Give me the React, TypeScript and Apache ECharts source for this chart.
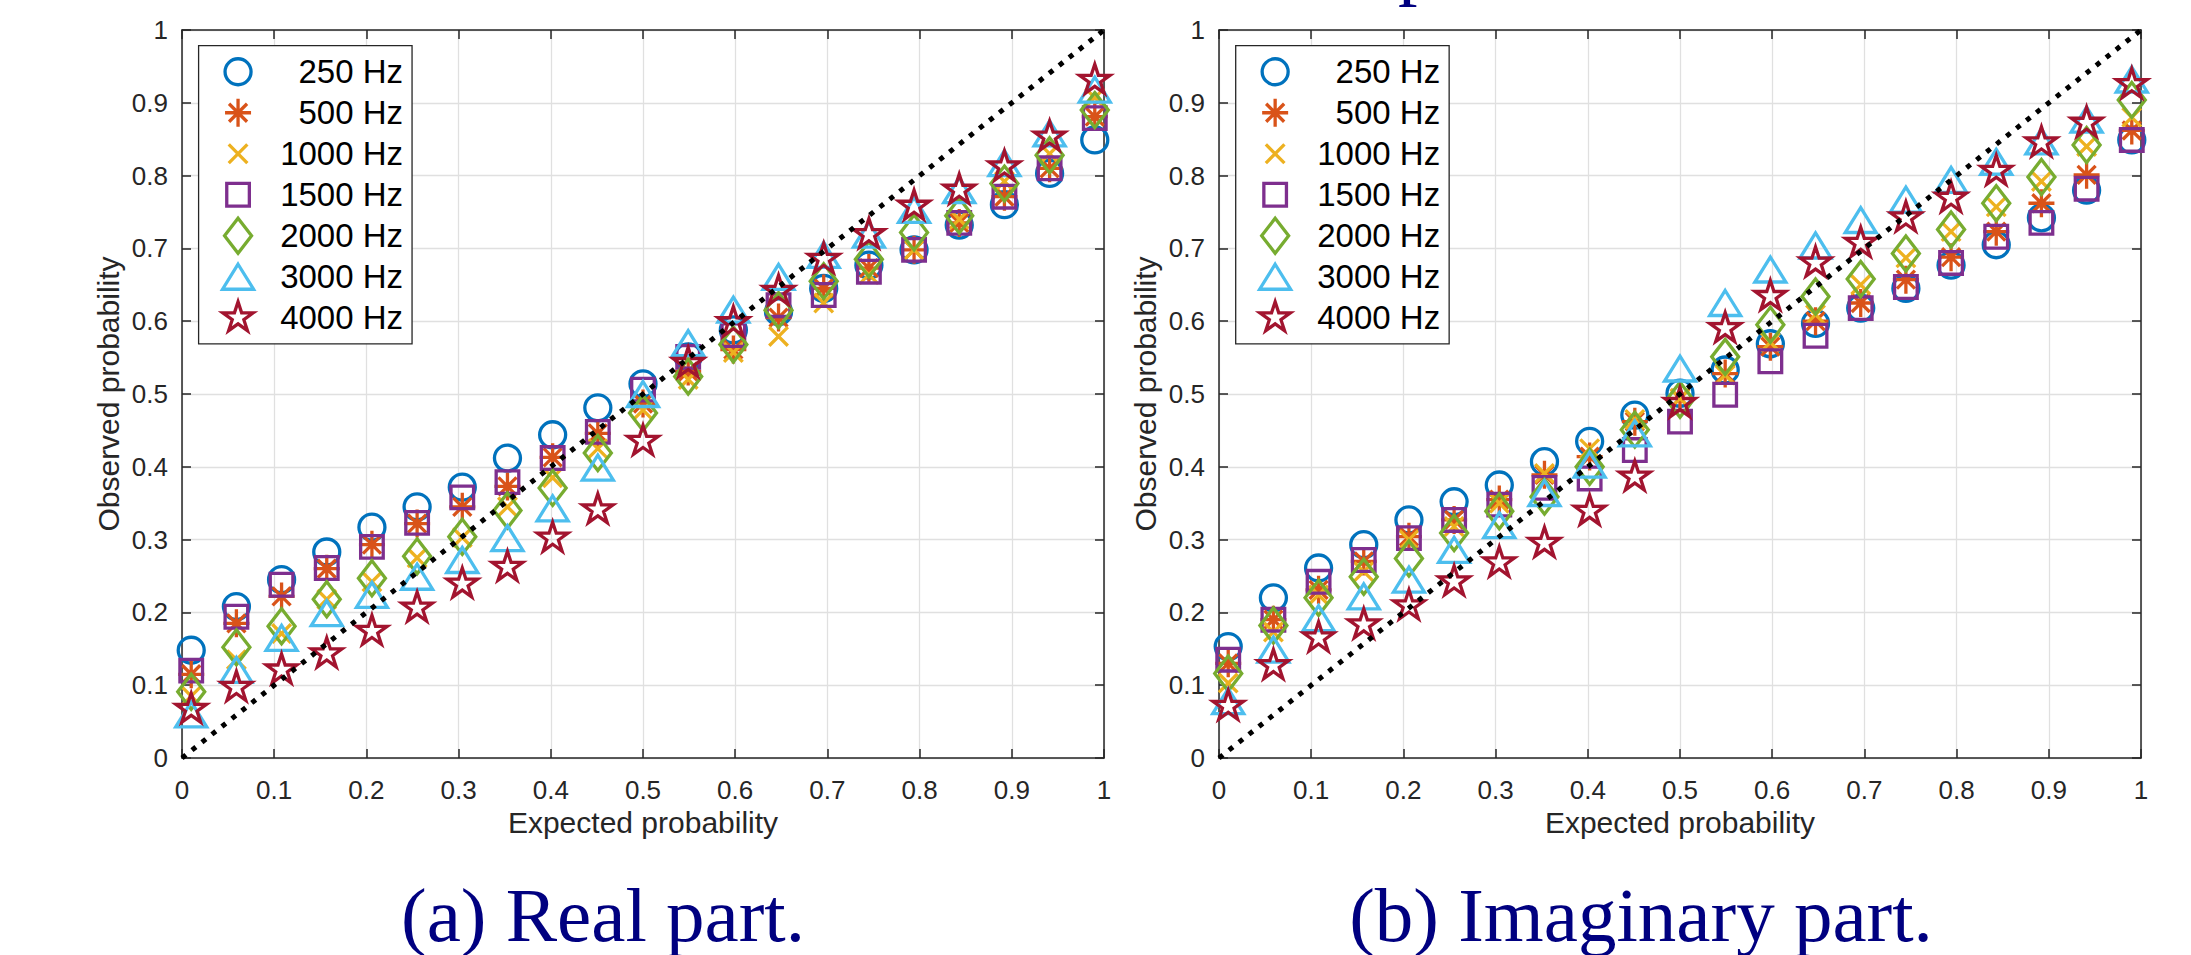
import React, { useEffect, useRef } from 'react';
import * as echarts from 'echarts';

// ---------- data ----------
const EXPECTED = [0.01, 0.059, 0.108, 0.157, 0.206, 0.255, 0.304, 0.353, 0.402, 0.451, 0.5, 0.549, 0.598, 0.647, 0.696, 0.745, 0.794, 0.843, 0.892, 0.941, 0.99];

const NAMES = ['250 Hz', '500 Hz', '1000 Hz', '1500 Hz', '2000 Hz', '3000 Hz', '4000 Hz'];

const REAL_250 = [0.148, 0.208, 0.245, 0.283, 0.317, 0.345, 0.372, 0.412, 0.444, 0.481, 0.514, 0.551, 0.588, 0.613, 0.645, 0.677, 0.698, 0.732, 0.760, 0.803, 0.849];
const REAL_500 = [0.115, 0.185, 0.222, 0.260, 0.293, 0.322, 0.345, 0.373, 0.413, 0.446, 0.487, 0.531, 0.561, 0.605, 0.645, 0.673, 0.698, 0.735, 0.771, 0.810, 0.881];
const REAL_1000 = [0.085, 0.135, 0.171, 0.218, 0.242, 0.275, 0.303, 0.345, 0.385, 0.425, 0.478, 0.520, 0.557, 0.579, 0.625, 0.664, 0.698, 0.740, 0.792, 0.830, 0.907];
const REAL_1500 = [0.120, 0.194, 0.238, 0.261, 0.290, 0.323, 0.358, 0.379, 0.412, 0.448, 0.506, 0.551, 0.581, 0.622, 0.636, 0.668, 0.698, 0.735, 0.771, 0.810, 0.879];
const REAL_2000 = [0.091, 0.152, 0.181, 0.218, 0.247, 0.277, 0.304, 0.340, 0.371, 0.419, 0.474, 0.524, 0.568, 0.615, 0.655, 0.685, 0.722, 0.745, 0.789, 0.828, 0.890];
const REAL_3000 = [0.060, 0.121, 0.165, 0.199, 0.224, 0.249, 0.272, 0.302, 0.343, 0.399, 0.500, 0.570, 0.616, 0.661, 0.691, 0.719, 0.753, 0.780, 0.817, 0.858, 0.918];
const REAL_4000 = [0.067, 0.097, 0.121, 0.143, 0.174, 0.206, 0.239, 0.262, 0.302, 0.341, 0.435, 0.542, 0.598, 0.641, 0.685, 0.719, 0.758, 0.780, 0.812, 0.853, 0.931];

const IMAG_250 = [0.153, 0.220, 0.261, 0.293, 0.327, 0.352, 0.375, 0.407, 0.435, 0.471, 0.501, 0.533, 0.569, 0.597, 0.618, 0.645, 0.677, 0.705, 0.742, 0.780, 0.849];
const IMAG_500 = [0.130, 0.190, 0.231, 0.270, 0.304, 0.327, 0.355, 0.389, 0.414, 0.462, 0.494, 0.528, 0.565, 0.600, 0.625, 0.657, 0.688, 0.723, 0.762, 0.801, 0.862];
const IMAG_1000 = [0.103, 0.173, 0.224, 0.256, 0.300, 0.318, 0.350, 0.391, 0.425, 0.465, 0.494, 0.526, 0.571, 0.609, 0.650, 0.687, 0.723, 0.757, 0.792, 0.840, 0.880];
const IMAG_1500 = [0.135, 0.190, 0.242, 0.272, 0.302, 0.327, 0.348, 0.371, 0.384, 0.423, 0.462, 0.499, 0.545, 0.580, 0.618, 0.647, 0.680, 0.716, 0.735, 0.782, 0.849];
const IMAG_2000 = [0.116, 0.182, 0.220, 0.249, 0.274, 0.309, 0.339, 0.359, 0.400, 0.451, 0.492, 0.551, 0.595, 0.634, 0.658, 0.693, 0.726, 0.762, 0.798, 0.842, 0.904];
const IMAG_3000 = [0.078, 0.149, 0.192, 0.222, 0.245, 0.286, 0.320, 0.364, 0.403, 0.446, 0.535, 0.625, 0.671, 0.704, 0.739, 0.767, 0.794, 0.819, 0.847, 0.877, 0.932];
const IMAG_4000 = [0.071, 0.127, 0.165, 0.183, 0.209, 0.242, 0.268, 0.295, 0.339, 0.386, 0.487, 0.590, 0.634, 0.680, 0.707, 0.742, 0.769, 0.806, 0.845, 0.872, 0.925];

const REAL_SERIES = [REAL_250, REAL_500, REAL_1000, REAL_1500, REAL_2000, REAL_3000, REAL_4000];
const IMAG_SERIES = [IMAG_250, IMAG_500, IMAG_1000, IMAG_1500, IMAG_2000, IMAG_3000, IMAG_4000];

const TICK_LABELS = ['0', '0.1', '0.2', '0.3', '0.4', '0.5', '0.6', '0.7', '0.8', '0.9', '1'];
const DIAGONAL = [0, 1];
const X_NAME = 'Expected probability';
const Y_NAME = 'Observed probability';
const CAPTIONS = ['(a) Real part.', '(b) Imaginary part.'];

// ---------- styles ----------
const COLORS = ['#0072BD', '#D95319', '#EDB120', '#7E2F8E', '#77AC30', '#4DBEEE', '#A2142F'];
const FONT = '"Liberation Sans", Arial, Helvetica, sans-serif';
const SERIF = '"Liberation Serif", "Times New Roman", serif';
const AXIS_COLOR = '#262626';
const GRID_COLOR = '#e0e0e0';
const FRAME = 'M0 0M40 40';
const SYMBOLS = [
  'path://' + FRAME + 'M7 20A13 13 0 1 1 33 20A13 13 0 1 1 7 20Z',
  'path://' + FRAME + 'M20 6V34M7 20H33M11 11L29 29M29 11L11 29',
  'path://' + FRAME + 'M10.7 10.7L29.3 29.3M29.3 10.7L10.7 29.3',
  'path://' + FRAME + 'M8.7 8.7H31.3V31.3H8.7Z',
  'path://' + FRAME + 'M20 2.5L33.5 20L20 37.5L6.5 20Z',
  'path://' + FRAME + 'M20 7.5L35.5 32.5H4.5Z',
  'path://' + FRAME + 'M20 4L23.59 15.07L35.22 15.06L25.8 21.89L29.41 32.94L20 26.1L10.59 32.94L14.2 21.89L4.78 15.06L16.41 15.07Z',
];
const MARKER_STROKE = 3.3;

const GRIDS = [
  { left: 182, top: 30, width: 922, height: 728 },
  { left: 1219, top: 30, width: 922, height: 728 },
];

const tickFmt = (v: number) => TICK_LABELS[Math.round(v * 10)] ?? '';

function axisCommon() {
  return {
    type: 'value' as const,
    min: 0,
    max: 1,
    interval: 0.1,
    axisLine: { show: true, onZero: false, lineStyle: { color: AXIS_COLOR, width: 1.5 } },
    axisTick: { show: true, inside: true, length: 9, lineStyle: { color: AXIS_COLOR, width: 1.5 } },
  };
}

export default function App() {
  const ref = useRef<HTMLDivElement>(null);

  useEffect(() => {
    if (!ref.current) return;
    const chart = echarts.init(ref.current, null, { renderer: 'svg' });

    const xAxis: any[] = [];
    const yAxis: any[] = [];
    GRIDS.forEach((_, g) => {
      xAxis.push({
        ...axisCommon(),
        gridIndex: g,
        position: 'bottom',
        name: X_NAME,
        nameLocation: 'middle',
        nameGap: 49,
        nameTextStyle: { fontFamily: FONT, fontSize: 30, color: AXIS_COLOR },
        axisLabel: { show: true, margin: 19, fontFamily: FONT, fontSize: 26, color: AXIS_COLOR, formatter: tickFmt },
        splitLine: { show: true, lineStyle: { color: GRID_COLOR, width: 1.3 } },
      });
      xAxis.push({
        ...axisCommon(),
        gridIndex: g,
        position: 'top',
        axisLabel: { show: false },
        splitLine: { show: false },
      });
      yAxis.push({
        ...axisCommon(),
        gridIndex: g,
        position: 'left',
        name: Y_NAME,
        nameLocation: 'middle',
        nameGap: 59,
        nameTextStyle: { fontFamily: FONT, fontSize: 30, color: AXIS_COLOR },
        axisLabel: { show: true, margin: 14, fontFamily: FONT, fontSize: 26, color: AXIS_COLOR, formatter: tickFmt },
        splitLine: { show: true, lineStyle: { color: GRID_COLOR, width: 1.3 } },
      });
      yAxis.push({
        ...axisCommon(),
        gridIndex: g,
        position: 'right',
        axisLabel: { show: false },
        splitLine: { show: false },
      });
    });

    const series: any[] = [];
    [REAL_SERIES, IMAG_SERIES].forEach((group, g) => {
      group.forEach((vals, i) => {
        series.push({
          type: 'scatter',
          name: NAMES[i],
          xAxisIndex: g * 2,
          yAxisIndex: g * 2,
          symbol: SYMBOLS[i],
          symbolSize: 40,
          itemStyle: { color: 'rgba(0,0,0,0)', borderColor: COLORS[i], borderWidth: MARKER_STROKE, opacity: 1 },
          emphasis: { disabled: true },
          z: 2 + i * 0.01,
          data: EXPECTED.map((x, k) => [x, vals[k]]),
        });
      });
      series.push({
        type: 'line',
        name: 'diag',
        xAxisIndex: g * 2,
        yAxisIndex: g * 2,
        symbol: 'none',
        lineStyle: { color: '#000', width: 5, type: [5, 7.7], cap: 'butt' },
        emphasis: { disabled: true },
        z: 3,
        data: DIAGONAL.map((v) => [v, v]),
      });
    });

    const legends = [198.6, 1235.7].map((left) => ({
      data: NAMES,
      orient: 'vertical',
      left,
      top: 45.7,
      itemWidth: 40,
      itemHeight: 40,
      itemGap: -2.3,
      padding: [4.4, 9, 4.4, 17.8],
      borderColor: AXIS_COLOR,
      borderWidth: 1.3,
      backgroundColor: '#ffffff',
      selectedMode: false,
      formatter: '{r|{name}}',
      itemStyle: { borderWidth: MARKER_STROKE },
      textStyle: {
        width: 140,
        height: 34,
        lineHeight: 34,
        fontFamily: FONT,
        fontSize: 33,
        color: '#000',
        rich: { r: { align: 'right', fontFamily: FONT, fontSize: 33, lineHeight: 34, height: 34, color: '#000' } },
      },
    }));

    const graphic = [
      {
        type: 'text',
        x: 603,
        y: 915,
        style: { text: CAPTIONS[0], fontFamily: SERIF, fontSize: 77, fill: '#000080', align: 'center', verticalAlign: 'middle' },
      },
      {
        type: 'text',
        x: 1641,
        y: 915,
        style: { text: CAPTIONS[1], fontFamily: SERIF, fontSize: 77, fill: '#000080', align: 'center', verticalAlign: 'middle' },
      },
      {
        type: 'text',
        x: 1398,
        y: -37,
        style: { text: 'p', fontFamily: SERIF, fontSize: 78, fill: '#000080', align: 'left', verticalAlign: 'middle' },
      },
    ];

    chart.setOption({
      animation: false,
      backgroundColor: '#ffffff',
      grid: GRIDS.map((g) => ({ ...g, containLabel: false })),
      xAxis,
      yAxis,
      legend: legends,
      series,
      graphic,
    });

    return () => chart.dispose();
  }, []);

  return (
    <div
      ref={ref}
      style={{ position: 'absolute', left: 0, top: 0, width: 2191, height: 955, background: '#fff' }}
    />
  );
}
